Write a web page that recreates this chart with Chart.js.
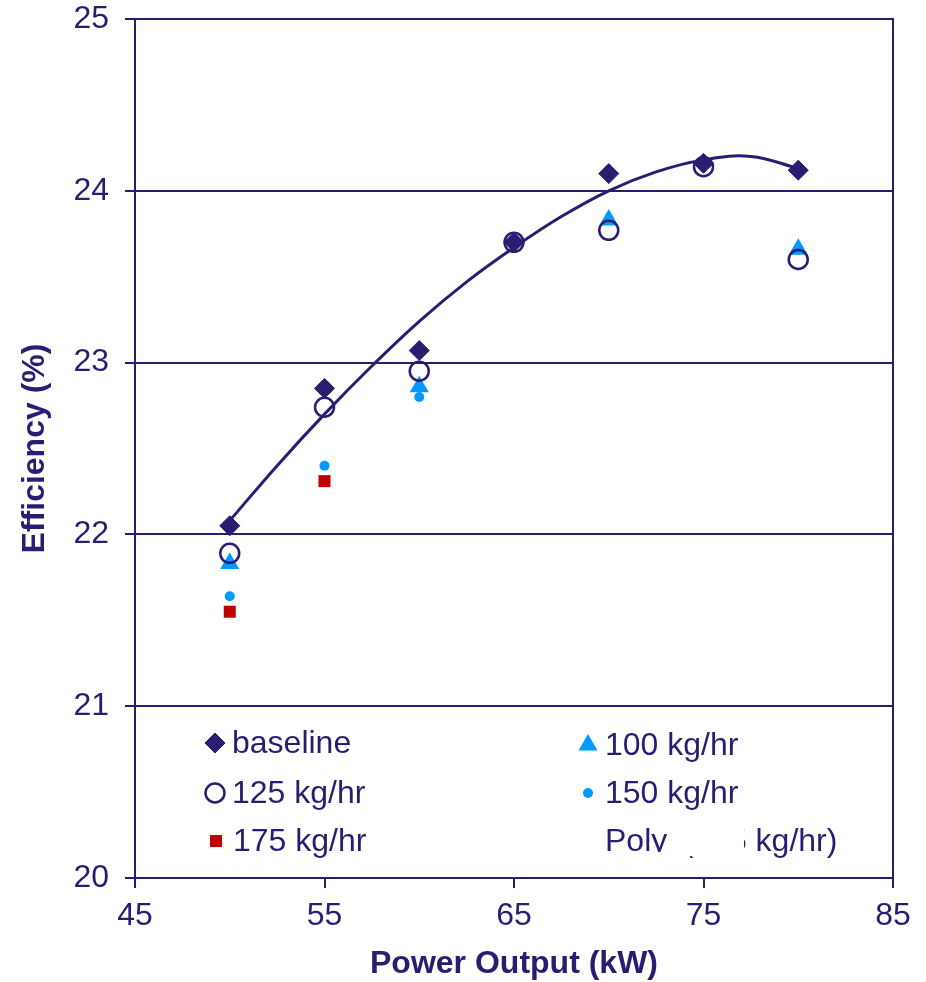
<!DOCTYPE html>
<html>
<head>
<meta charset="utf-8">
<script src="https://cdn.jsdelivr.net/npm/chart.js@4.4.1/dist/chart.umd.min.js"></script>
<style>
  html, body { margin: 0; padding: 0; background: #fff; }
  #wrap { width: 926px; height: 982px; }
</style>
</head>
<body>
<div id="wrap"><canvas id="effChart" width="926" height="982"></canvas></div>
<script>
// power output (kW)
const power = [50, 55, 60, 65, 70, 75, 80];

// efficiency (%)
const baseline = [22.05, 22.85, 23.07, 23.70, 24.10, 24.16, 24.12];
const kg100 = [21.83, null, 22.86, null, 23.83, null, 23.66];
const kg125 = [21.89, 22.74, 22.95, 23.70, 23.77, 24.14, 23.60];
const kg150 = [21.64, 22.40, 22.80, null, null, null, null];
const kg175 = [21.55, 22.31, null, null, null, null, null];

// trendline
const trendX = [50, 52.5, 55, 57.5, 60, 62.5, 65, 67.5, 70, 72.5, 75, 77.5, 80];
const trendY = [22.08, 22.40, 22.70, 22.98, 23.24, 23.47, 23.67, 23.85, 24.00, 24.11, 24.18, 24.20, 24.13];

const xTicks = [45, 55, 65, 75, 85];
const yTicks = [20, 21, 22, 23, 24, 25];

const NAVY = '#2B1C72';
const BLUE = '#0099FF';
const RED = '#C00000';
const FONT = '"Liberation Sans", Arial, sans-serif';

const pts = ys => power.map((x, i) => ({ x: x, y: ys[i] })).filter(p => p.y !== null);

// box round the plot area
const frame = {
    id: 'frame',
    afterDatasetsDraw(chart) {
        const { ctx, chartArea: a } = chart;
        ctx.save();
        ctx.strokeStyle = NAVY;
        ctx.lineWidth = 2;
        ctx.strokeRect(a.left, a.top, a.right - a.left, a.bottom - a.top);
        ctx.restore();
    }
};

// legend drawn inside the plot, two columns
const legendItems = [
    { text: 'baseline', style: 'rectRot', r: 10, fill: NAVY, stroke: NAVY, bw: 1, x: 215, y: 743 },
    { text: '125 kg/hr', style: 'circle', r: 9.5, fill: 'rgba(0,0,0,0)', stroke: NAVY, bw: 2.5, x: 215, y: 793 },
    { text: '175 kg/hr', style: 'rect', r: 8.5, fill: RED, stroke: RED, bw: 0, x: 216, y: 841 },
    { text: '100 kg/hr', style: 'triangle', r: 11, fill: BLUE, stroke: BLUE, bw: 0, x: 588, y: 745 },
    { text: '150 kg/hr', style: 'circle', r: 5, fill: BLUE, stroke: BLUE, bw: 0, x: 588, y: 793 },
    { text: 'Poly. (125 kg/hr)', style: null, x: 588, y: 841 }
];

const insideLegend = {
    id: 'insideLegend',
    afterDraw(chart) {
        const ctx = chart.ctx;
        ctx.save();
        ctx.font = '32px ' + FONT;
        ctx.textBaseline = 'middle';
        ctx.textAlign = 'left';
        legendItems.forEach(it => {
            if (it.style) {
                ctx.fillStyle = it.fill;
                ctx.strokeStyle = it.stroke;
                ctx.lineWidth = it.bw;
                Chart.helpers.drawPoint(ctx, { pointStyle: it.style, radius: it.r, borderWidth: it.bw, rotation: 0 }, it.x, it.y);
            }
            ctx.fillStyle = NAVY;
            ctx.fillText(it.text, it.x + 17, it.y + 1);
        });
        // white patches hiding part of the trendline label
        ctx.fillStyle = '#fff';
        ctx.fillRect(667, 818, 77, 38);
        ctx.fillRect(648, 852, 42, 18);
        ctx.restore();
    }
};

new Chart(document.getElementById('effChart'), {
    type: 'scatter',
    data: {
        datasets: [
            {
                label: 'Poly. (125 kg/hr)',
                data: trendX.map((x, i) => ({ x: x, y: trendY[i] })),
                showLine: true,
                borderColor: NAVY,
                borderWidth: 3,
                pointRadius: 0,
                tension: 0.4,
                order: 0
            },
            {
                label: '175 kg/hr',
                data: pts(kg175),
                pointStyle: 'rect',
                pointRadius: 8.5,
                backgroundColor: RED,
                borderColor: RED,
                borderWidth: 0,
                order: 1
            },
            {
                label: '150 kg/hr',
                data: pts(kg150),
                pointStyle: 'circle',
                pointRadius: 5,
                backgroundColor: BLUE,
                borderColor: BLUE,
                borderWidth: 0,
                order: 2
            },
            {
                label: '125 kg/hr',
                data: pts(kg125),
                pointStyle: 'circle',
                pointRadius: 9.5,
                backgroundColor: 'rgba(0,0,0,0)',
                borderColor: NAVY,
                borderWidth: 2.5,
                order: 3
            },
            {
                label: '100 kg/hr',
                data: pts(kg100),
                pointStyle: 'triangle',
                pointRadius: 11,
                backgroundColor: BLUE,
                borderColor: BLUE,
                borderWidth: 0,
                order: 4
            },
            {
                label: 'baseline',
                data: pts(baseline),
                pointStyle: 'rectRot',
                pointRadius: 10,
                backgroundColor: NAVY,
                borderColor: NAVY,
                borderWidth: 1,
                order: 5
            }
        ]
    },
    options: {
        responsive: false,
        animation: false,
        layout: { padding: { top: 19, right: 33, bottom: 0, left: 0 } },
        plugins: {
            legend: { display: false },
            tooltip: { enabled: false }
        },
        scales: {
            x: {
                type: 'linear',
                min: 45,
                max: 85,
                afterFit: s => { s.height = 104; s.paddingLeft = 0; s.paddingRight = 0; },
                afterBuildTicks: s => { s.ticks = xTicks.map(v => ({ value: v })); },
                grid: {
                    drawOnChartArea: false,
                    color: NAVY,
                    lineWidth: 2,
                    tickLength: 10
                },
                border: { color: NAVY, width: 2 },
                ticks: {
                    color: NAVY,
                    padding: 9,
                    font: { family: FONT, size: 32 }
                },
                title: {
                    display: true,
                    text: 'Power Output (kW)',
                    color: NAVY,
                    padding: { top: 0, bottom: -1 },
                    font: { family: FONT, size: 32, weight: 'bold', lineHeight: 1.2 }
                }
            },
            y: {
                min: 20,
                max: 25,
                afterFit: s => { s.width = 135; s.paddingTop = 0; s.paddingBottom = 0; },
                afterBuildTicks: s => { s.ticks = yTicks.map(v => ({ value: v })); },
                grid: {
                    color: NAVY,
                    lineWidth: 2,
                    tickLength: 10
                },
                border: { color: NAVY, width: 2 },
                ticks: {
                    color: NAVY,
                    padding: 16,
                    font: { family: FONT, size: 32 }
                },
                title: {
                    display: true,
                    text: 'Efficiency (%)',
                    color: NAVY,
                    padding: { top: 16, bottom: 0 },
                    font: { family: FONT, size: 32, weight: 'bold', lineHeight: 1.2 }
                }
            }
        }
    },
    plugins: [frame, insideLegend]
});
</script>
</body>
</html>
